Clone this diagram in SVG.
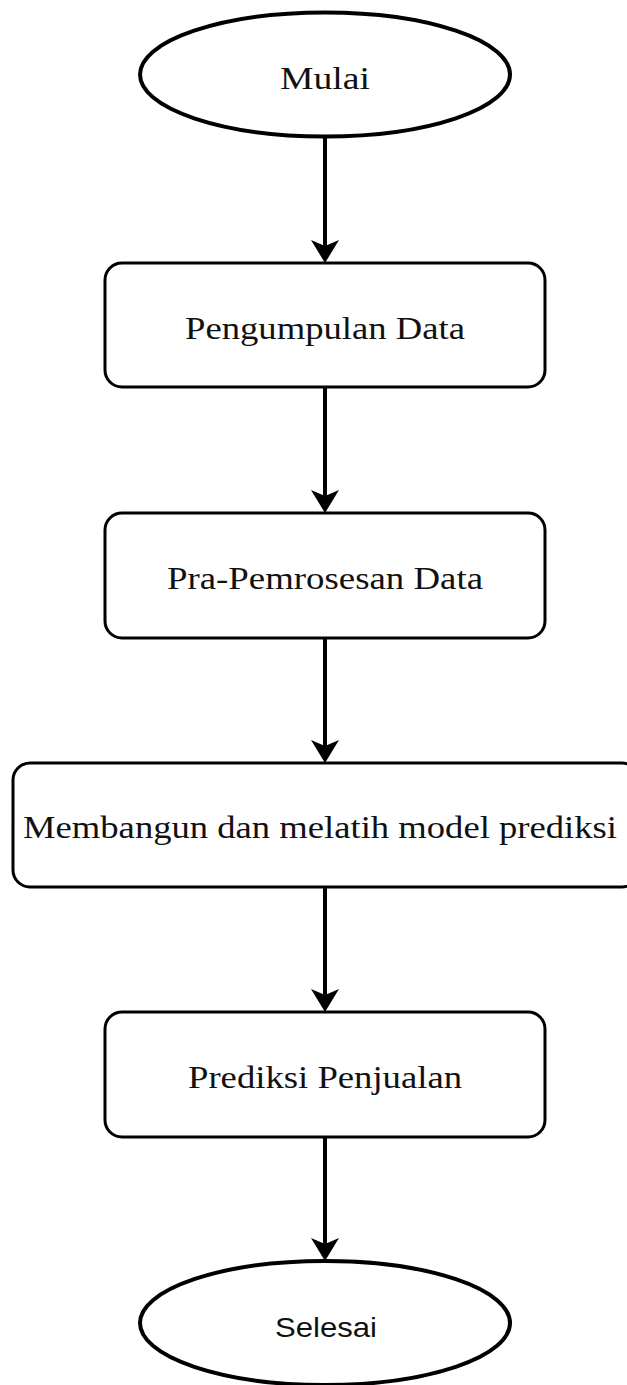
<svg xmlns="http://www.w3.org/2000/svg" width="627" height="1385" viewBox="0 0 627 1385">
<style>
.term{fill:#fff;stroke:#000;stroke-width:4}
.box{fill:#fff;stroke:#000;stroke-width:3}
.lbl{font-family:"Liberation Serif","Times New Roman",serif;font-size:32px;fill:#111;text-anchor:middle}
.sans{font-family:"Liberation Sans",Arial,sans-serif;font-size:28px;fill:#111;text-anchor:middle}
.edge{stroke:#000;stroke-width:4;fill:none}
</style>
<defs>
<marker id="arr" viewBox="0 0 24 30" markerWidth="24" markerHeight="30" refX="15" refY="15" orient="auto" markerUnits="userSpaceOnUse" overflow="visible">
<path d="M0,1 L23,15 L0,29 L6,15 Z" fill="#000"/>
</marker>
</defs>
<rect width="627" height="1385" fill="#fff"/>
<g id="connectors">
<line class="edge" x1="325" y1="137" x2="325" y2="255" marker-end="url(#arr)"/>
<line class="edge" x1="325" y1="387" x2="325" y2="505" marker-end="url(#arr)"/>
<line class="edge" x1="325" y1="638" x2="325" y2="755" marker-end="url(#arr)"/>
<line class="edge" x1="325" y1="887" x2="325" y2="1004" marker-end="url(#arr)"/>
<line class="edge" x1="325" y1="1137" x2="325" y2="1253" marker-end="url(#arr)"/>
</g>
<g id="mulai">
<ellipse class="term" cx="325" cy="74.5" rx="185" ry="62"/>
<text class="lbl" x="325" y="89" textLength="90" lengthAdjust="spacingAndGlyphs">Mulai</text>
</g>
<g id="pengumpulan">
<rect class="box" x="105" y="263" width="440" height="124" rx="17" ry="17"/>
<text class="lbl" x="325" y="339" textLength="280" lengthAdjust="spacingAndGlyphs">Pengumpulan Data</text>
</g>
<g id="pra">
<rect class="box" x="105" y="513" width="440" height="125" rx="17" ry="17"/>
<text class="lbl" x="325" y="589" textLength="316" lengthAdjust="spacingAndGlyphs">Pra-Pemrosesan Data</text>
</g>
<g id="membangun">
<rect class="box" x="13" y="763" width="626" height="124" rx="17" ry="17"/>
<text class="lbl" x="320" y="838" textLength="594" lengthAdjust="spacingAndGlyphs">Membangun dan melatih model prediksi</text>
</g>
<g id="prediksi">
<rect class="box" x="105" y="1012" width="440" height="125" rx="17" ry="17"/>
<text class="lbl" x="325" y="1088" textLength="274" lengthAdjust="spacingAndGlyphs">Prediksi Penjualan</text>
</g>
<g id="selesai">
<ellipse class="term" cx="325" cy="1323" rx="185" ry="62"/>
<text class="sans" x="326" y="1337" textLength="102" lengthAdjust="spacingAndGlyphs">Selesai</text>
</g>
</svg>
